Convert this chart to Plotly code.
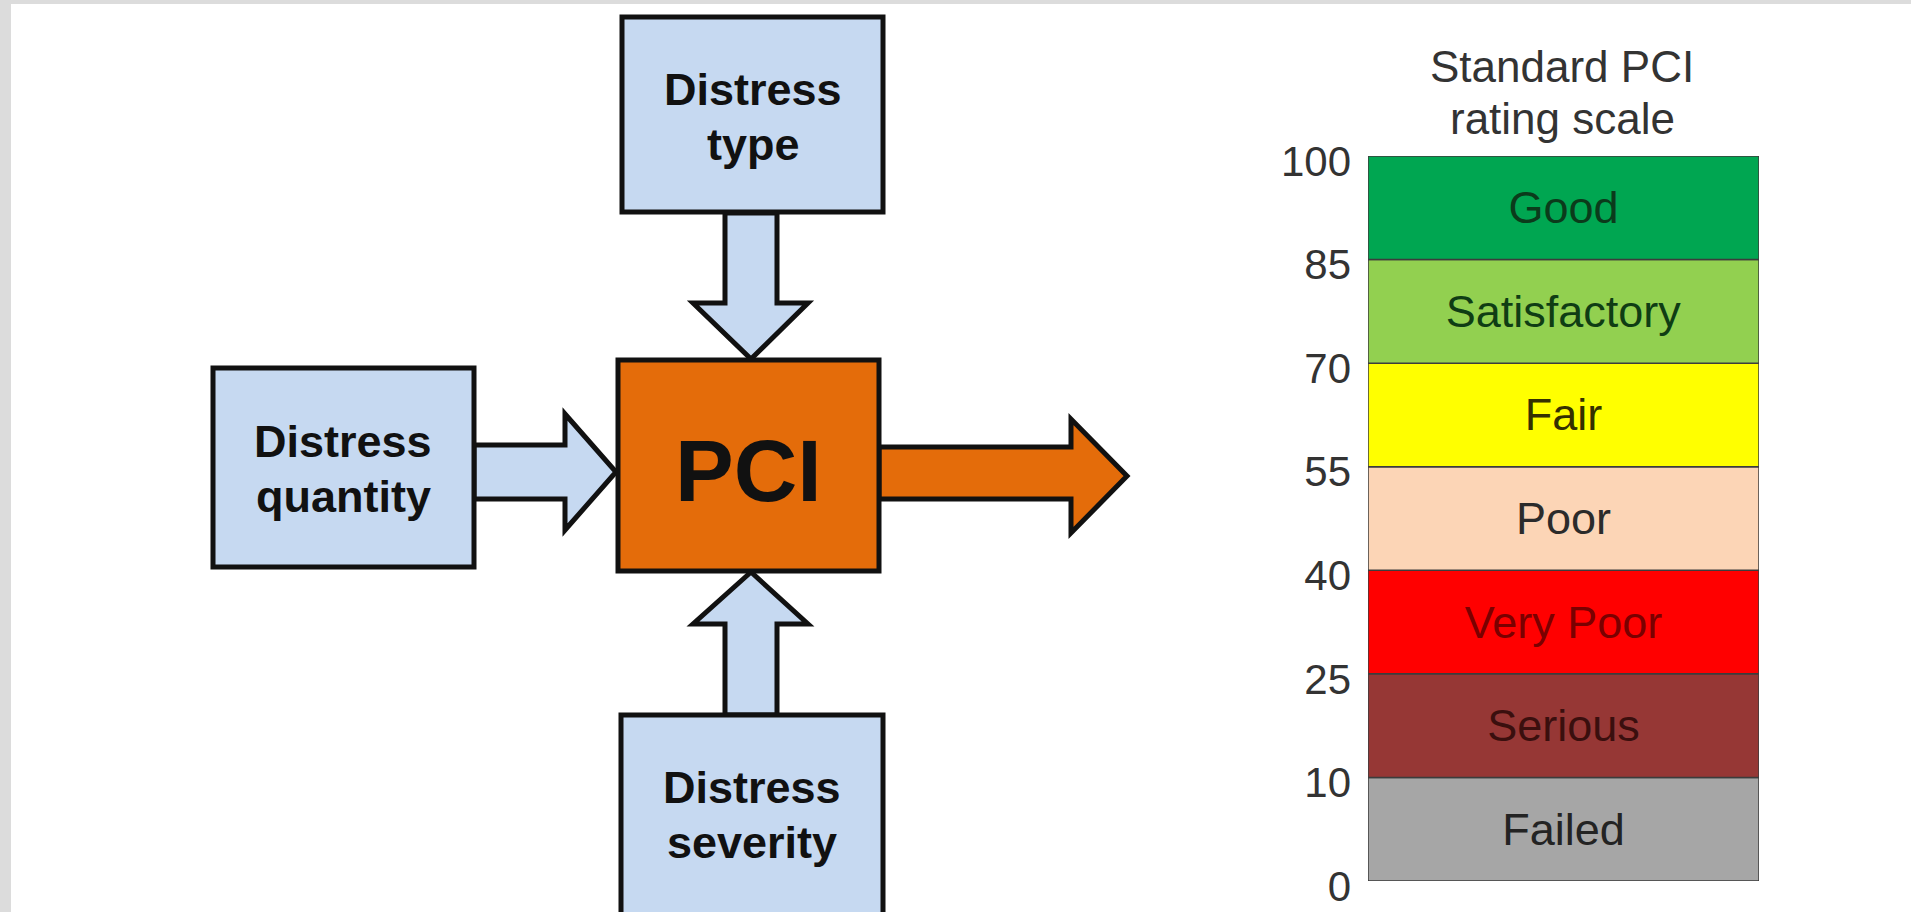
import plotly.graph_objects as go

W, H = 1911, 912

# ---------------- data ----------------
rating_bounds = [0, 10, 25, 40, 55, 70, 85, 100]          # boundaries, bottom to top
ratings = ["Failed", "Serious", "Very Poor", "Poor", "Fair", "Satisfactory", "Good"]
rating_colors = ["#a6a6a6", "#963735", "#ff0000", "#fcd5b6", "#ffff00", "#92d050", "#00a651"]
rating_text_colors = ["#232323", "#3a0f0e", "#7a0000", "#2b2b2b", "#353000", "#0f3d14", "#0b3b1b"]
tick_labels = [str(v) for v in rating_bounds]
scale_title = ["Standard PCI", "rating scale"]
input_labels = {"type": ["Distress", "type"],
                "quantity": ["Distress", "quantity"],
                "severity": ["Distress", "severity"]}
output_label = "PCI"

# The drawn scale gives every rating band the same height, so bands sit at
# equal slots and the boundary values are used as tick labels.
slot_base = list(range(len(ratings)))
slot_height = [1] * len(ratings)
tick_slots = list(range(len(rating_bounds)))

# ---------------- layout geometry (pixels) ----------------
FONT = "Liberation Sans, Arial, sans-serif"
BLUE = "#c6d9f1"
ORANGE = "#e46c0a"
INK = "#111111"


def px(x):
    return x / W


def py(y):
    return 1 - y / H


def rect(x0, y0, x1, y1, fill, lw=5, lc=INK):
    return dict(type="rect", xref="paper", yref="paper",
                x0=px(x0), x1=px(x1), y0=py(y1), y1=py(y0),
                fillcolor=fill, line=dict(color=lc, width=lw), layer="above")


def poly(points, fill, lw=5):
    d = "M " + " L ".join(f"{px(x):.6f},{py(y):.6f}" for x, y in points) + " Z"
    return dict(type="path", xref="paper", yref="paper", path=d,
                fillcolor=fill, line=dict(color=INK, width=lw), layer="above")


shapes = [
    # grey frame
    dict(type="rect", xref="paper", yref="paper", x0=0, x1=px(11), y0=0, y1=1,
         fillcolor="#dcdcdc", line=dict(width=0), layer="below"),
    dict(type="rect", xref="paper", yref="paper", x0=0, x1=1, y0=py(4), y1=1,
         fillcolor="#dcdcdc", line=dict(width=0), layer="below"),
]

# arrows
shapes.append(poly([(725, 213), (777, 213), (777, 303), (808, 303), (751, 359),
                    (693, 303), (725, 303)], BLUE))
shapes.append(poly([(725, 715), (777, 715), (777, 624), (808, 624), (751, 572),
                    (693, 624), (725, 624)], BLUE))
shapes.append(poly([(474, 445), (565, 445), (565, 414), (616, 472), (565, 530),
                    (565, 499), (474, 499)], BLUE))
shapes.append(poly([(879, 447), (1071, 447), (1071, 419), (1127, 476), (1071, 533),
                    (1071, 499), (879, 499)], ORANGE))

# boxes
shapes.append(rect(622, 17, 883, 212, BLUE))
shapes.append(rect(213, 368, 474, 567, BLUE))
shapes.append(rect(621, 715, 883, 930, BLUE))
shapes.append(rect(618, 360, 879, 571, ORANGE))

annotations = []


def text(x, y, s, size, color=INK, bold=True):
    annotations.append(dict(xref="paper", yref="paper", x=px(x), y=py(y), text=s,
                            showarrow=False, xanchor="center", yanchor="middle",
                            font=dict(family=FONT, size=size, color=color,
                                      weight="bold" if bold else "normal")))


text(753, 89, input_labels["type"][0], 45)
text(753, 145, input_labels["type"][1], 45)
text(343, 441, input_labels["quantity"][0], 45)
text(343, 497, input_labels["quantity"][1], 45)
text(752, 787, input_labels["severity"][0], 45)
text(752, 842, input_labels["severity"][1], 45)
text(748, 470, output_label, 88)
text(1562, 67, scale_title[0], 44, color="#333333", bold=False)
text(1562, 118, scale_title[1], 44, color="#333333", bold=False)

fig = go.Figure()
fig.add_trace(go.Bar(
    x=[0] * len(ratings),
    y=slot_height,
    base=slot_base,
    width=1,
    marker=dict(color=rating_colors, line=dict(color="#3c3c3c", width=1.5)),
    text=ratings,
    textposition="inside",
    insidetextanchor="middle",
    textangle=0,
    constraintext="none",
    textfont=dict(family=FONT, size=45, color=rating_text_colors),
    hoverinfo="skip",
    xaxis="x2", yaxis="y2",
    showlegend=False,
))

fig.update_layout(
    template="none",
    width=W, height=H, autosize=False,
    margin=dict(l=0, r=0, t=0, b=0, pad=0, autoexpand=False),
    paper_bgcolor="white", plot_bgcolor="rgba(0,0,0,0)",
    barmode="overlay",
    shapes=shapes,
    annotations=annotations,
    showlegend=False,
    xaxis=dict(visible=False, automargin=False),
    yaxis=dict(visible=False, automargin=False),
    xaxis2=dict(domain=[px(1368), px(1759)], range=[-0.5, 0.5], visible=False,
                fixedrange=True, anchor="y2", automargin=False),
    yaxis2=dict(domain=[py(881), py(156)], range=[0, len(ratings)], anchor="x2",
                tickvals=tick_slots, ticktext=tick_labels,
                tickfont=dict(family=FONT, size=42, color="#333333"),
                showgrid=False, zeroline=False, showline=False, ticks="",
                ticklabelstandoff=16, ticklabelshift=5, fixedrange=True,
                automargin=False),
)

fig.write_html("out.html", config={"displayModeBar": False},
               post_script="document.body.style.margin='0';document.body.style.overflow='hidden';")
